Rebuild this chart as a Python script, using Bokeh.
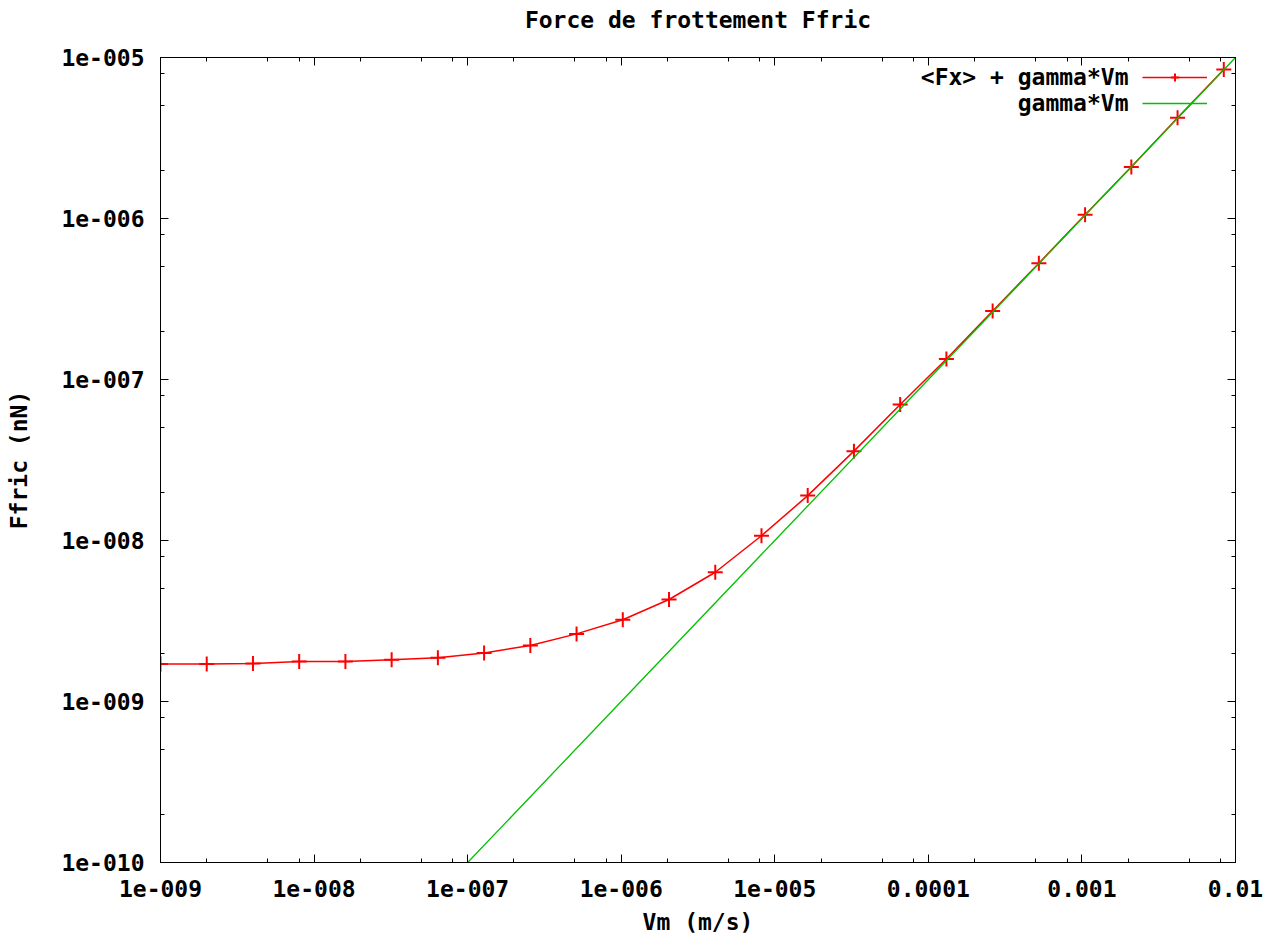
from bokeh.plotting import figure
from bokeh.models import (Range1d, FixedTicker, LogAxis, Legend, LegendItem, Label,
                          CustomJSTickFormatter, CustomLabelingPolicy)
from bokeh.core.properties import value
from bokeh.embed import file_html
from bokeh.resources import INLINE

# ---- data ----
vm = [1.0e-9, 2.0e-9, 4.0e-9, 8.0e-9, 1.6e-8, 3.2e-8, 6.4e-8, 1.28e-7,
      2.56e-7, 5.12e-7, 1.024e-6, 2.048e-6, 4.096e-6, 8.192e-6, 1.6384e-5,
      3.2768e-5, 6.5536e-5, 1.31072e-4, 2.62144e-4, 5.24288e-4, 1.048576e-3,
      2.097152e-3, 4.194304e-3, 8.388608e-3]
ffric = [1.71e-9, 1.71e-9, 1.72e-9, 1.77e-9, 1.77e-9, 1.82e-9, 1.87e-9, 2.00e-9,
         2.23e-9, 2.63e-9, 3.22e-9, 4.30e-9, 6.35e-9, 1.07e-8, 1.90e-8,
         3.59e-8, 6.99e-8, 1.34e-7, 2.66e-7, 5.28e-7, 1.055e-6,
         2.09e-6, 4.22e-6, 8.42e-6]
gamma_vm_x = [1e-7, 1e-6, 1e-5, 1e-4, 1e-3, 1e-2]
gamma_vm_y = [1e-10, 1e-9, 1e-8, 1e-7, 1e-6, 1e-5]

x_ticks = [1e-9, 1e-8, 1e-7, 1e-6, 1e-5, 1e-4, 1e-3, 1e-2]
x_tick_labels = ["1e-009", "1e-008", "1e-007", "1e-006", "1e-005", "0.0001", "0.001", "0.01"]
y_ticks = [1e-10, 1e-9, 1e-8, 1e-7, 1e-6, 1e-5]
y_tick_labels = ["1e-010", "1e-009", "1e-008", "1e-007", "1e-006", "1e-005"]
minor_mult = [2, 5, 8]

title_text = "Force de frottement Ffric"
x_title = "Vm (m/s)"
y_title = "Ffric (nN)"
series_names = ["<Fx> + gamma*Vm", "gamma*Vm"]

FONT = "DejaVu Sans Mono"
FS = "23px"
RED = "#ff0000"
GREEN = "#00c000"

x_minor = [m * t for t in x_ticks[:-1] for m in minor_mult]
y_minor = [m * t for t in y_ticks[:-1] for m in minor_mult]

p = figure(width=1279, height=938, x_axis_type="log", y_axis_type="log",
           x_range=Range1d(x_ticks[0], x_ticks[-1]), y_range=Range1d(y_ticks[0], y_ticks[-1]),
           output_backend="svg", toolbar_location=None,
           min_border_left=160, min_border_right=44, min_border_top=57, min_border_bottom=76)
p.background_fill_color = "white"
p.border_fill_color = "white"
p.outline_line_color = "black"
p.outline_line_width = 1
p.grid.visible = False

x_fmt = CustomJSTickFormatter(args=dict(labels=x_tick_labels),
                              code="return labels[Math.round(Math.log10(tick)) + 9];")
y_fmt = CustomJSTickFormatter(args=dict(labels=y_tick_labels),
                              code="return labels[Math.round(Math.log10(tick)) + 10];")

no_labels = CustomLabelingPolicy(
    code="const n = indices.size; for (let i = 0; i < n; i++) { indices.unset(i) } return indices;")


def style(ax, ticks, minors, show_labels=True):
    ax.ticker = FixedTicker(ticks=ticks, minor_ticks=minors)
    ax.axis_line_color = "black"
    ax.axis_line_width = 1
    ax.major_tick_in = 8
    ax.major_tick_out = 0
    ax.minor_tick_in = 4
    ax.minor_tick_out = 0
    ax.major_tick_line_color = "black"
    ax.minor_tick_line_color = "black"
    ax.major_label_text_font = FONT
    ax.major_label_text_font_style = "bold"
    ax.major_label_text_font_size = FS
    ax.major_label_text_color = "black"
    ax.axis_label_text_font = FONT
    ax.axis_label_text_font_style = "bold"
    ax.axis_label_text_font_size = FS
    ax.axis_label_text_color = "black"
    if not show_labels:
        ax.major_label_policy = no_labels
        ax.major_label_text_font_size = "0px"
        ax.major_label_standoff = 0


xa = p.xaxis[0]
style(xa, x_ticks, x_minor)
xa.formatter = x_fmt
xa.axis_label = x_title
xa.major_label_standoff = 17
xa.axis_label_standoff = 9

ya = p.yaxis[0]
style(ya, y_ticks, y_minor)
ya.formatter = y_fmt
ya.axis_label = y_title
ya.major_label_standoff = 16
ya.axis_label_standoff = 26

# mirrored top axis: carries the ticks of the box and the chart title, centred over the frame
top_ax = LogAxis()
style(top_ax, x_ticks, x_minor, show_labels=False)
top_ax.formatter = x_fmt
top_ax.axis_label = title_text
top_ax.axis_label_standoff = 25
p.add_layout(top_ax, "above")

right_ax = LogAxis()
style(right_ax, y_ticks, y_minor, show_labels=False)
right_ax.formatter = y_fmt
p.add_layout(right_ax, "right")

# ---- series ----
rl = p.line(vm, ffric, line_color=RED, line_width=1.5)
rs = p.scatter(vm, ffric, marker="cross", size=15, line_color=RED, line_width=2)
gl = p.line(gamma_vm_x, gamma_vm_y, line_color=GREEN, line_width=1.3)

# gnuplot-style key: samples drawn by a Legend, texts right-aligned to their left
legend = Legend(items=[LegendItem(label=value(""), renderers=[rl, rs]),
                       LegendItem(label=value(""), renderers=[gl])],
                location=(982, 749), glyph_width=65, glyph_height=20, spacing=6,
                padding=0, margin=0, label_standoff=0, label_width=0, label_height=20,
                label_text_font=FONT, label_text_font_size=FS,
                border_line_alpha=0, background_fill_alpha=0)
p.add_layout(legend)

for i, name in enumerate(series_names):
    p.add_layout(Label(x=968, y=786 - 26 * i, x_units="screen", y_units="screen",
                       text=name, text_align="right", text_baseline="middle",
                       text_font=FONT, text_font_style="bold", text_font_size=FS,
                       text_color="black"))

open("out.html", "w").write(file_html(p, INLINE))
